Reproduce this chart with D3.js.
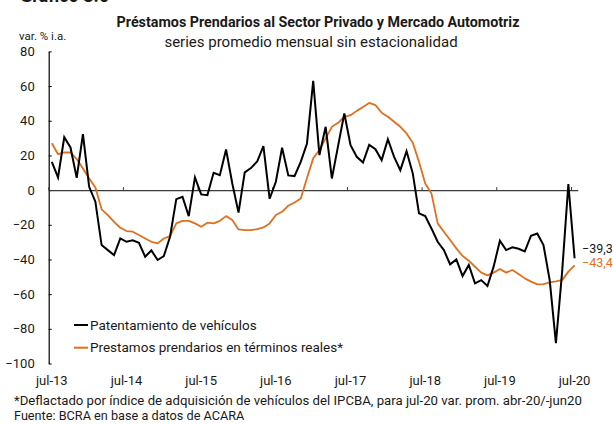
<!DOCTYPE html>
<html>
<head>
<meta charset="utf-8">
<script src="https://cdn.jsdelivr.net/npm/d3@7"></script>
<style>
  body { margin: 0; background: #fff; }
  text { font-family: Roboto, "Noto Sans", sans-serif; fill: #1a1a1a; }
</style>
</head>
<body>
<div id="chart"></div>
<script>
// months jul-13 .. jul-20
var months = d3.range(85).map(function(i) {
  var mNames = ["ene", "feb", "mar", "abr", "may", "jun", "jul", "ago", "sep", "oct", "nov", "dic"];
  var m = (6 + i) % 12;
  var y = 13 + Math.floor((6 + i) / 12);
  return mNames[m] + "-" + y;
});

var tickLabels = ["jul-13", "jul-14", "jul-15", "jul-16", "jul-17", "jul-18", "jul-19", "jul-20"];
var yTicks = [80, 60, 40, 20, 0, -20, -40, -60, -80, -100];

// Patentamiento de vehículos (var. % i.a.)
var patentamiento = [
  16.3, 7.3, 30.5, 24.6, 7.1, 32.3, 1.9, -6.7, -31.7, -34.6, -37.5, -27.9,
  -29.8, -29.0, -30.4, -38.4, -34.8, -40.3, -38.0, -26.9, -5.2, -3.8, -15.0, 7.3,
  -2.5, -2.9, 10.0, 8.6, 23.4, 3.8, -13.0, 10.2, 12.7, 16.5, 25.4, -5.0,
  4.8, 24.4, 8.5, 8.1, 16.3, 26.9, 63.0, 20.2, 36.5, 6.7, 25.5, 44.2,
  25.9, 19.2, 15.9, 26.1, 23.6, 17.3, 29.4, 19.2, 11.5, 22.5, 9.6, -13.4,
  -15.0, -22.1, -29.8, -34.6, -42.8, -40.0, -49.6, -43.2, -53.8, -51.9, -55.3, -44.0,
  -29.2, -34.6, -33.0, -33.8, -35.4, -26.3, -25.0, -31.7, -51.9, -88.2, -47.0, 3.5,
  -39.3
];

// Prestamos prendarios en términos reales*
var prendarios = [
  27.0, 20.7, 21.7, 21.7, 17.9, 12.5, 6.7, 1.5, -11.1, -14.4, -18.3, -21.7,
  -23.6, -24.0, -25.9, -27.9, -29.8, -30.7, -27.9, -26.5, -19.2, -17.7, -17.7, -19.2,
  -21.1, -18.8, -19.2, -17.7, -15.0, -17.3, -22.7, -23.1, -23.1, -22.5, -21.5, -19.2,
  -14.4, -12.5, -9.0, -7.1, -4.8, 7.0, 18.3, 23.1, 29.8, 36.5, 38.8, 42.3,
  43.2, 45.7, 48.0, 50.3, 49.0, 44.6, 42.3, 39.4, 36.5, 32.7, 27.3, 16.3,
  3.8, -1.9, -19.2, -24.0, -28.8, -33.6, -38.0, -40.7, -44.2, -47.6, -49.2, -47.6,
  -45.5, -47.6, -46.1, -48.4, -50.9, -52.8, -54.4, -54.2, -53.2, -52.6, -51.9, -47.0,
  -43.4
];

var svgWidth = 613;
var svgHeight = 424;
var orange = "#E0701E";

var svg = d3.select("#chart")
  .append("svg")
  .attr("width", svgWidth)
  .attr("height", svgHeight);

var xScale = d3.scaleBand()
  .domain(months)
  .range([48.7, 577.7])
  .padding(0);

var yScale = d3.scaleLinear()
  .domain([-100, 80])
  .range([363.5, 51.4]);

var xc = function(d, i) { return xScale(months[i]) + xScale.bandwidth() / 2; };

// titles
svg.append("text")
  .attr("x", 20).attr("y", 2)
  .style("font-size", "18px").style("font-weight", "bold")
  .text("Gráfico 3.6");

svg.append("text")
  .attr("x", 318).attr("y", 27)
  .attr("text-anchor", "middle")
  .style("font-size", "14.3px").style("font-weight", "bold")
  .text("Préstamos Prendarios al Sector Privado y Mercado Automotriz");

svg.append("text")
  .attr("x", 311).attr("y", 47)
  .attr("text-anchor", "middle")
  .style("font-size", "15px")
  .text("series promedio mensual sin estacionalidad");

svg.append("text")
  .attr("x", 19).attr("y", 40)
  .style("font-size", "11.5px")
  .text("var. % i.a.");

// y axis
var leftAxis = d3.axisLeft(yScale)
  .tickValues(yTicks)
  .tickSizeInner(-3)
  .tickSizeOuter(0)
  .tickPadding(14);

var yAxisG = svg.append("g")
  .attr("transform", "translate(48.7,0)")
  .call(leftAxis);
yAxisG.select(".domain").attr("stroke", "#000").attr("stroke-width", 1.2);
yAxisG.selectAll(".tick line").attr("stroke", "#000");
yAxisG.selectAll(".tick text")
  .style("font-size", "13px")
  .style("font-family", "Roboto")
  .attr("fill", "#1a1a1a");

// x axis line at zero, ticks pointing up at each July
var julMonths = months.filter(function(m) { return m.indexOf("jul") === 0; });
var bottomAxis = d3.axisBottom(xScale)
  .tickValues(julMonths)
  .tickSizeInner(-3)
  .tickSizeOuter(0)
  .tickFormat("");

var xAxisG = svg.append("g")
  .attr("transform", "translate(0," + yScale(0) + ")")
  .call(bottomAxis);
xAxisG.selectAll(".tick").attr("transform", function(d) {
  return "translate(" + xScale(d) + ",0)";
});
xAxisG.select(".domain").attr("stroke", "#3a3a3a").attr("stroke-width", 1.2);
xAxisG.selectAll(".tick line").attr("stroke", "#3a3a3a");

// x tick labels at bottom
svg.append("g")
  .selectAll("text")
  .data(tickLabels)
  .enter()
  .append("text")
  .attr("x", function(d) { return xScale(d) + xScale.bandwidth() / 2; })
  .attr("y", 385)
  .attr("text-anchor", "middle")
  .style("font-size", "13px")
  .text(function(d) { return d; });

// lines
var line = d3.line()
  .x(xc)
  .y(function(d) { return yScale(d); });

svg.append("path")
  .datum(prendarios)
  .attr("fill", "none")
  .attr("stroke", orange)
  .attr("stroke-width", 1.8)
  .attr("stroke-linejoin", "round")
  .attr("d", line);

svg.append("path")
  .datum(patentamiento)
  .attr("fill", "none")
  .attr("stroke", "#000")
  .attr("stroke-width", 2)
  .attr("stroke-linejoin", "miter")
  .attr("d", line);

// end labels
var lastIdx = months.length - 1;
svg.append("text")
  .attr("x", 582).attr("y", 253)
  .style("font-size", "12.5px")
  .text(d3.format(".1f")(patentamiento[lastIdx]).replace(".", ","));
svg.append("text")
  .attr("x", 582).attr("y", 267)
  .style("font-size", "12.5px")
  .style("fill", orange)
  .text(d3.format(".1f")(prendarios[lastIdx]).replace(".", ","));

// legend
var legendItems = [
  { label: "Patentamiento de vehículos", color: "#000" },
  { label: "Prestamos prendarios en términos reales*", color: orange }
];
var legend = svg.selectAll(".legend")
  .data(legendItems)
  .enter()
  .append("g")
  .attr("class", "legend")
  .attr("transform", function(d, i) { return "translate(74," + (325 + i * 22.7) + ")"; });
legend.append("line")
  .attr("x1", 0).attr("x2", 14)
  .attr("stroke", function(d) { return d.color; })
  .attr("stroke-width", 2);
legend.append("text")
  .attr("x", 16).attr("y", 4.7)
  .style("font-size", "13.5px")
  .text(function(d) { return d.label; });

// footnotes
svg.append("text")
  .attr("x", 14).attr("y", 405)
  .style("font-size", "13.2px")
  .text("*Deflactado por índice de adquisición de vehículos del IPCBA, para jul-20 var. prom. abr-20/-jun20");
svg.append("text")
  .attr("x", 14).attr("y", 420)
  .style("font-size", "12.7px")
  .text("Fuente: BCRA en base a datos de ACARA");
</script>
</body>
</html>
